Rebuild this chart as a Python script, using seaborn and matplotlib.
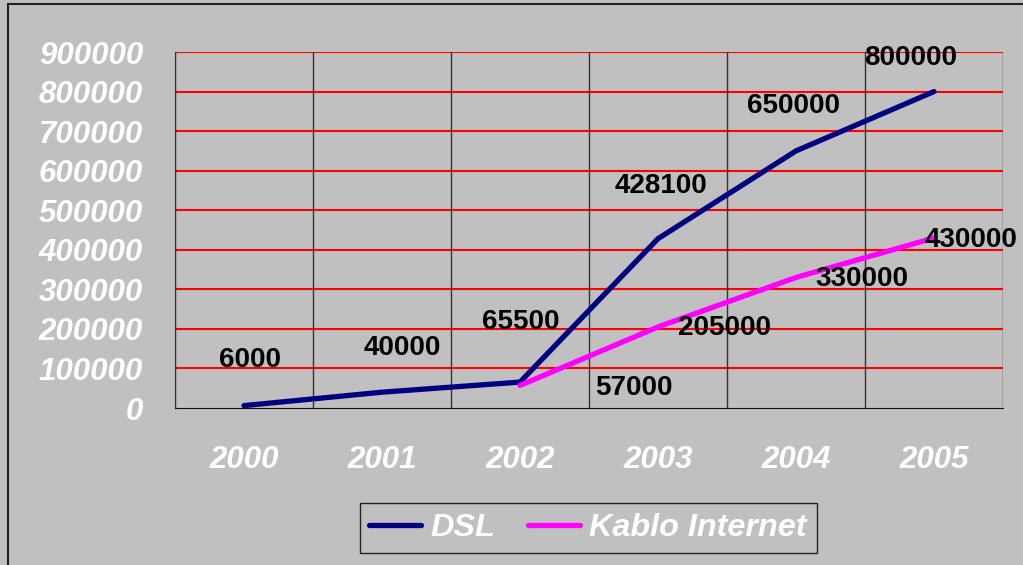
import numpy as np
import pandas as pd
import seaborn as sns
import matplotlib.pyplot as plt
from matplotlib.lines import Line2D
from matplotlib import font_manager

# data
years = ['2000', '2001', '2002', '2003', '2004', '2005']
dsl = [6000, 40000, 65500, 428100, 650000, 800000]
kablo = [np.nan, np.nan, 57000, 205000, 330000, 430000]
series_names = ['DSL', 'Kablo Internet']
y_ticks = [0, 100000, 200000, 300000, 400000, 500000, 600000, 700000, 800000, 900000]

# label placement (pixel offsets from each point)
dsl_offsets = [(6, 46), (20, 44), (1, 60), (3, 53), (-2, 45), (-23, 34)]
kablo_offsets = [None, None, (114, -3), (67, -1), (66, -2), (37, -2)]

bg = '#C0C0C0'
colors = {'DSL': '#000080', 'Kablo Internet': '#FF00FF'}


def pick_font(style, weight):
    """find the plain (not Narrow) Liberation Sans file for a style/weight"""
    for f in font_manager.fontManager.ttflist:
        if (f.name == 'Liberation Sans' and f.style == style and f.weight == weight
                and 'narrow' not in f.fname.lower() and f.stretch == 'normal'):
            return font_manager.FontProperties(fname=f.fname)
    return font_manager.FontProperties(family='DejaVu Sans', style=style, weight=weight)


bold = pick_font('normal', 700)
bold_it = pick_font('italic', 700)

df = pd.DataFrame({'year': years * 2,
                   'value': dsl + kablo,
                   'series': ['DSL'] * 6 + ['Kablo Internet'] * 6}).dropna()

sns.set_style('white')
plt.rcParams['font.family'] = ['Liberation Sans', 'DejaVu Sans']

fig = plt.figure(figsize=(10.23, 5.65), dpi=100, facecolor=bg)
ax = fig.add_axes([175 / 1023, 1 - 408 / 565, 828 / 1023, 356 / 565])
ax.set_facecolor(bg)

sns.lineplot(data=df, x='year', y='value', hue='series', palette=colors,
             linewidth=3.8, ax=ax, legend=False, sort=False)
for line in ax.lines:
    line.set_solid_capstyle('round')

ax.set_xlim(-0.5, 5.5)
ax.set_ylim(0, 900000)
ax.set_yticks(y_ticks)
ax.set_yticklabels([str(v) for v in y_ticks])
ax.set_xticks(range(6))
ax.set_xticks(np.arange(-0.5, 6, 1), minor=True)
ax.set_xlabel('')
ax.set_ylabel('')

# grid: red horizontals, black verticals at category borders
ax.grid(False)
for v in y_ticks[1:]:
    ax.axhline(v, color='#FF0000', lw=1.5, zorder=0.5)
ax.grid(which='minor', axis='x', color='#333333', lw=1.0, zorder=0.4)

for s in ['top', 'right']:
    ax.spines[s].set_visible(False)
ax.spines['left'].set_color('#333333')
ax.spines['bottom'].set_color('#111111')

ax.tick_params(axis='x', which='major', length=0, pad=27, labelcolor='white')
ax.tick_params(axis='x', which='minor', length=7, width=1.0, color='#333333',
               direction='out')
ax.tick_params(axis='y', length=0, pad=23, labelcolor='white')
for t in ax.get_xticklabels() + ax.get_yticklabels():
    t.set_fontproperties(bold_it)
    t.set_fontsize(22.5)

# data labels
for i, (v, off) in enumerate(zip(dsl, dsl_offsets)):
    ax.annotate(str(v), (i, v), xytext=(off[0] * 0.72, off[1] * 0.72),
                textcoords='offset points', ha='center', va='center',
                fontproperties=bold, fontsize=20, color='black')
for i, (v, off) in enumerate(zip(kablo, kablo_offsets)):
    if off is None:
        continue
    ax.annotate(str(int(v)), (i, v), xytext=(off[0] * 0.72, off[1] * 0.72),
                textcoords='offset points', ha='center', va='center',
                fontproperties=bold, fontsize=20, color='black')

# legend
leg_font = bold_it.copy()
leg_font.set_size(23.3)
handles = [Line2D([0], [0], color=colors[n], lw=3.8, solid_capstyle='round')
           for n in series_names]
leg = fig.legend(handles, series_names, loc='center', bbox_to_anchor=(588 / 1023, 1 - 528 / 565),
                 ncol=2, frameon=True, fancybox=False, facecolor=bg, edgecolor='#222222',
                 prop=leg_font, handlelength=1.6, handletextpad=0.3, columnspacing=1.0,
                 borderpad=0.3, framealpha=1)
for t in leg.get_texts():
    t.set_color('white')

# outer border (left and top edges only visible)
fig.add_artist(Line2D([8 / 1023, 8 / 1023], [0, 1 - 4 / 565], color='#222222', lw=1.5))
fig.add_artist(Line2D([8 / 1023, 1], [1 - 4 / 565, 1 - 4 / 565], color='#222222', lw=1.5))

fig.savefig('out.png', dpi=100, facecolor=bg)
